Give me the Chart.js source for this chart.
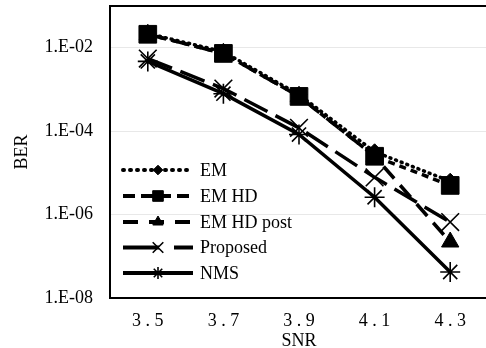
<!DOCTYPE html>
<html><head><meta charset="utf-8">
<script src="https://cdn.jsdelivr.net/npm/chart.js@4/dist/chart.umd.min.js"></script>
<style>html,body{margin:0;padding:0;overflow:hidden;background:#fff;width:486px;height:348px}
#wrap{width:492px;height:348px;position:relative}</style></head><body>
<div id="wrap"><canvas id="c" width="492" height="348" style="width:492px;height:348px"></canvas></div>
<script>
const categories = ['3.5','3.7','3.9','4.1','4.3'];
const seriesNames = ['EM','EM HD','EM HD post','Proposed','NMS'];
const em       = [2.2e-2, 8.0e-3, 7.5e-4, 3.2e-5, 6.3e-6];
const emHd     = [2.1e-2, 7.3e-3, 6.8e-4, 2.5e-5, 5.0e-6];
const emHdPost = [2.1e-2, 7.3e-3, 6.8e-4, 2.5e-5, 2.2e-7];
const proposed = [5.5e-3, 1.05e-3, 1.2e-4, 7.8e-6, 6.6e-7];
const nms      = [4.7e-3, 7.9e-4, 8.3e-5, 2.6e-6, 4.2e-8];
const yTickValues = [1e-8, 1e-6, 1e-4, 1e-2];

const FONT = '"Liberation Serif", "Times New Roman", serif';

const styles = [
  {data: em, pointStyle: 'rectRot', radius: 8, dash: [1, 5], cap: 'round', width: 3.5, pbw: 1, legendDash: [1, 6]},
  {data: emHd, pointStyle: 'rect', radius: 12.5, dash: [7, 5], cap: 'butt', width: 3.5, pbw: 1, legendDash: [12, 6]},
  {data: emHdPost, pointStyle: 'triangle', radius: 10, dash: [16, 9], cap: 'butt', width: 3.5, pbw: 1, legendDash: [15, 11]},
  {data: proposed, pointStyle: 'crossRot', radius: 12.5, dash: [26, 9], cap: 'butt', width: 3.5, pbw: 1.6, legendDash: [36, 15]},
  {data: nms, pointStyle: 'star', radius: 10, dash: [], cap: 'butt', width: 3.5, pbw: 1.6, legendDash: []}
];

const datasets = styles.map((s, i) => ({
  label: seriesNames[i],
  data: s.data,
  order: styles.length - i,
  borderColor: '#000',
  backgroundColor: '#000',
  borderWidth: s.width,
  borderDash: s.dash,
  borderCapStyle: s.cap,
  pointStyle: s.pointStyle,
  pointRadius: s.radius,
  pointBorderWidth: s.pbw,
  pointBorderColor: '#000',
  pointBackgroundColor: '#000',
  tension: 0,
  fill: false,
  clip: false
}));

const framePlugin = {
  id: 'frame',
  beforeDatasetsDraw(chart) {
    const a = chart.chartArea, ctx = chart.ctx;
    ctx.save();
    ctx.strokeStyle = '#000';
    ctx.lineWidth = 2;
    ctx.strokeRect(a.left, a.top, a.right - a.left, a.bottom - a.top);
    ctx.restore();
  }
};

const legendPlugin = {
  id: 'innerLegend',
  afterDraw(chart) {
    const ctx = chart.ctx;
    const x0 = 123, x1 = 193, xm = 158, xt = 200;
    const rows = [170, 196, 222, 247.5, 273];
    ctx.save();
    styles.forEach((s, i) => {
      const y = rows[i];
      ctx.strokeStyle = '#000';
      ctx.fillStyle = '#000';
      ctx.lineWidth = 4;
      ctx.lineCap = s.cap;
      ctx.setLineDash(s.legendDash);
      ctx.beginPath();
      ctx.moveTo(x0, y); ctx.lineTo(x1, y);
      ctx.stroke();
      ctx.setLineDash([]);
      ctx.lineCap = 'butt';
      ctx.lineWidth = s.pbw;
      Chart.helpers.drawPoint(ctx, {pointStyle: s.pointStyle, radius: s.radius * 0.6, rotation: 0, borderWidth: s.pbw}, xm, y);
      ctx.fillStyle = '#000';
      ctx.font = '18px ' + FONT;
      ctx.textBaseline = 'middle';
      ctx.textAlign = 'left';
      ctx.fillText(seriesNames[i], xt, y + 1);
    });
    ctx.restore();
  }
};

function noPad(scale) {
  scale.paddingTop = 0; scale.paddingBottom = 0;
  scale.paddingLeft = 0; scale.paddingRight = 0;
}

new Chart(document.getElementById('c'), {
  type: 'line',
  data: {labels: categories, datasets},
  options: {
    responsive: false,
    animation: false,
    devicePixelRatio: 1,
    layout: {autoPadding: false, padding: {top: 6, right: 4, left: 0, bottom: 0}},
    plugins: {legend: {display: false}, tooltip: {enabled: false}},
    scales: {
      x: {
        type: 'category',
        offset: true,
        grid: {display: false, drawTicks: false},
        border: {display: false},
        ticks: {
          color: '#000', padding: 12,
          font: {family: FONT, size: 18},
          callback: function(v) { return this.getLabelForValue(v).split('').join(' '); }
        },
        title: {display: true, text: 'SNR', color: '#000', font: {family: FONT, size: 18, lineHeight: 1}, padding: {top: 0, bottom: -2}},
        afterFit(scale) { scale.height = 50; noPad(scale); }
      },
      y: {
        type: 'logarithmic',
        min: 1e-8, max: 1e-1,
        grid: {color: '#e8e8e8', lineWidth: 1, drawTicks: false},
        border: {display: false},
        afterBuildTicks(scale) { scale.ticks = yTickValues.map(v => ({value: v})); },
        ticks: {
          color: '#000', padding: 17, autoSkip: false,
          font: {family: FONT, size: 18},
          callback: v => '1.E-' + String(-Math.round(Math.log10(v))).padStart(2, '0')
        },
        title: {display: true, text: 'BER', color: '#000', font: {family: FONT, size: 18, lineHeight: 1}, padding: 13},
        afterFit(scale) { scale.width = 110; noPad(scale); }
      }
    }
  },
  plugins: [framePlugin, legendPlugin]
});
</script>
</body></html>
